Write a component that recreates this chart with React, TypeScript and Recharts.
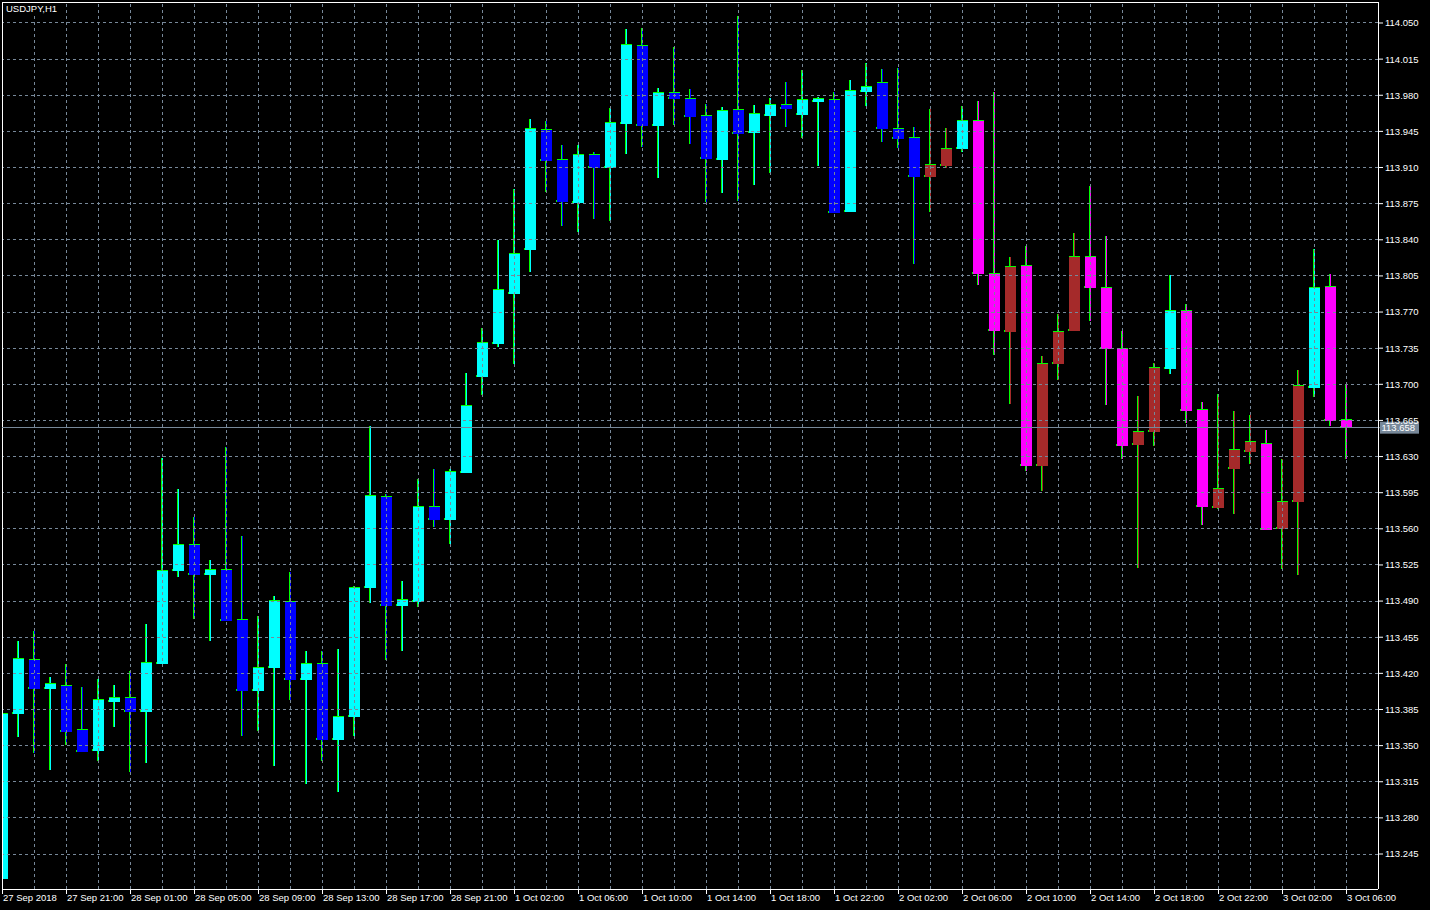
import React from "react";
import { ComposedChart, Bar, XAxis, YAxis, ReferenceLine } from "recharts";

const symbolLabel = "USDJPY,H1";
const lastPrice = 113.658;

const opens = [
  113.221, 113.381, 113.433, 113.405, 113.408, 113.365, 113.345, 113.392, 113.396, 113.383,
  113.429, 113.519, 113.544, 113.515, 113.520, 113.472, 113.403, 113.425, 113.489, 113.414,
  113.429, 113.355, 113.378, 113.503, 113.591, 113.485, 113.489, 113.581, 113.569, 113.614,
  113.707, 113.739, 113.787, 113.830, 113.946, 113.917, 113.876, 113.922, 113.910, 113.952,
  114.028, 113.950, 113.982, 113.976, 113.960, 113.917, 113.966, 113.943, 113.960, 113.971,
  113.961, 113.973, 113.975, 113.867, 113.983, 113.992, 113.947, 113.939, 113.901, 113.911,
  113.928, 113.955, 113.807, 113.751, 113.815, 113.621, 113.720, 113.752, 113.823, 113.793,
  113.734, 113.641, 113.654, 113.715, 113.771, 113.675, 113.580, 113.618, 113.634, 113.642,
  113.560, 113.586, 113.696, 113.794, 113.665,
];
const highs = [
  113.381, 113.451, 113.461, 113.416, 113.429, 113.407, 113.415, 113.409, 113.422, 113.468,
  113.629, 113.599, 113.571, 113.530, 113.639, 113.553, 113.476, 113.495, 113.518, 113.442,
  113.442, 113.444, 113.505, 113.660, 113.594, 113.509, 113.608, 113.618, 113.618, 113.711,
  113.755, 113.840, 113.889, 113.957, 113.955, 113.932, 113.932, 113.925, 113.968, 114.044,
  114.045, 113.987, 114.027, 113.986, 113.972, 113.969, 114.057, 113.971, 113.977, 113.993,
  114.004, 113.978, 113.983, 113.995, 114.011, 114.005, 114.006, 113.949, 113.967, 113.948,
  113.970, 113.974, 113.983, 113.823, 113.834, 113.727, 113.768, 113.847, 113.892, 113.844,
  113.752, 113.689, 113.721, 113.806, 113.778, 113.683, 113.691, 113.674, 113.670, 113.656,
  113.628, 113.714, 113.831, 113.807, 113.700,
];
const lows = [
  113.221, 113.358, 113.343, 113.326, 113.351, 113.344, 113.335, 113.368, 113.324, 113.333,
  113.429, 113.513, 113.473, 113.451, 113.471, 113.359, 113.364, 113.330, 113.394, 113.313,
  113.335, 113.305, 113.359, 113.488, 113.433, 113.442, 113.484, 113.562, 113.545, 113.614,
  113.690, 113.736, 113.720, 113.809, 113.886, 113.853, 113.848, 113.860, 113.858, 113.923,
  113.930, 113.900, 113.951, 113.933, 113.877, 113.885, 113.878, 113.893, 113.905, 113.949,
  113.939, 113.911, 113.866, 113.867, 113.970, 113.935, 113.929, 113.817, 113.867, 113.910,
  113.925, 113.796, 113.728, 113.681, 113.616, 113.597, 113.704, 113.752, 113.761, 113.680,
  113.628, 113.522, 113.640, 113.710, 113.663, 113.564, 113.579, 113.574, 113.623, 113.559,
  113.521, 113.515, 113.688, 113.660, 113.628,
];
const closes = [
  113.381, 113.434, 113.405, 113.410, 113.363, 113.344, 113.394, 113.396, 113.383, 113.430,
  113.519, 113.544, 113.515, 113.520, 113.471, 113.403, 113.425, 113.490, 113.414, 113.429,
  113.355, 113.378, 113.503, 113.592, 113.485, 113.491, 113.581, 113.569, 113.615, 113.679,
  113.740, 113.791, 113.826, 113.947, 113.916, 113.877, 113.922, 113.910, 113.953, 114.029,
  113.950, 113.982, 113.976, 113.959, 113.918, 113.965, 113.942, 113.962, 113.971, 113.967,
  113.975, 113.976, 113.866, 113.984, 113.988, 113.947, 113.938, 113.901, 113.912, 113.928,
  113.955, 113.807, 113.752, 113.814, 113.621, 113.720, 113.751, 113.823, 113.793, 113.734,
  113.640, 113.654, 113.716, 113.771, 113.674, 113.581, 113.599, 113.636, 113.644, 113.559,
  113.586, 113.698, 113.793, 113.664, 113.658,
];
// indicator state per bar: 1 = up regime, -1 = down regime
const trend = [
  1, 1, 1, 1, 1, 1, 1, 1, 1, 1,
  1, 1, 1, 1, 1, 1, 1, 1, 1, 1,
  1, 1, 1, 1, 1, 1, 1, 1, 1, 1,
  1, 1, 1, 1, 1, 1, 1, 1, 1, 1,
  1, 1, 1, 1, 1, 1, 1, 1, 1, 1,
  1, 1, 1, 1, 1, 1, 1, 1, -1, -1,
  1, -1, -1, -1, -1, -1, -1, -1, -1, -1,
  -1, -1, -1, 1, -1, -1, -1, -1, -1, -1,
  -1, -1, 1, -1, -1,
];
const timeLabels = [
  "27 Sep 2018", "27 Sep 21:00", "28 Sep 01:00", "28 Sep 05:00", "28 Sep 09:00", "28 Sep 13:00",
  "28 Sep 17:00", "28 Sep 21:00", "1 Oct 02:00", "1 Oct 06:00", "1 Oct 10:00", "1 Oct 14:00",
  "1 Oct 18:00", "1 Oct 22:00", "2 Oct 02:00", "2 Oct 06:00", "2 Oct 10:00", "2 Oct 14:00",
  "2 Oct 18:00", "2 Oct 22:00", "3 Oct 02:00", "3 Oct 06:00",
];
const barsPerLabel = 4;
const priceTicks = [
  114.050, 114.015, 113.980, 113.945, 113.910, 113.875, 113.840, 113.805, 113.770, 113.735,
  113.700, 113.665, 113.630, 113.595, 113.560, 113.525, 113.490, 113.455, 113.420, 113.385,
  113.350, 113.315, 113.280, 113.245,
];
const priceDomain: [number, number] = [113.2111, 114.07034];
const indexDomain: [number, number] = [-0.03125, 85.96875];

const BULL_UP = "#00FFFF";
const BEAR_UP = "#0000FF";
const BULL_DN = "#A52A2A";
const BEAR_DN = "#FF00FF";
const EDGE = "#00FF00";
const GRID = "#778899";
const FONT = "'Liberation Sans', Arial, sans-serif";

const rows = opens.map((o, i) => ({
  idx: i,
  open: o,
  high: highs[i],
  low: lows[i],
  close: closes[i],
  trend: trend[i],
  range: [lows[i], highs[i]],
}));

const xTicks = timeLabels.map((_, i) => i * barsPerLabel);
const gridBars = rows.filter((r) => r.idx > 0 && r.idx % 2 === 0).map((r) => r.idx);

const Candle = (props: any) => {
  const { x, y, width, height, payload } = props;
  if (!payload || typeof x !== "number") return null;
  const top = Math.min(y, y + height);
  const h = Math.abs(height);
  const { open, high, low, close } = payload;
  const span = high - low;
  const toY = (p: number) => top + (span === 0 ? 0 : ((high - p) / span) * h);
  const cx = x + width / 2;
  const bull = close >= open;
  const color = payload.trend > 0 ? (bull ? BULL_UP : BEAR_UP) : (bull ? BULL_DN : BEAR_DN);
  const bTop = toY(Math.max(open, close));
  const bBot = toY(Math.min(open, close));
  const bh = Math.max(1, bBot - bTop);
  const left = cx - 5.5;
  return (
    <g shapeRendering="crispEdges">
      <rect x={cx - 1.5} y={top} width={1} height={Math.max(1, h)} fill={EDGE} />
      <rect x={cx - 0.5} y={top} width={1} height={Math.max(1, h)} fill={color} />
      <rect x={left} y={bTop - 1} width={11} height={1} fill={EDGE} />
      <rect x={left - 1} y={bTop + bh - 2} width={1} height={2} fill={EDGE} />
      <rect x={left} y={bTop} width={11} height={bh} fill={color} />
    </g>
  );
};

const XTick = (props: any) => {
  const { x, y, payload } = props;
  const label = timeLabels[Math.round(payload.value / barsPerLabel)];
  return (
    <g>
      <line x1={x} x2={x} y1={y} y2={y + 5} stroke="#FFFFFF" shapeRendering="crispEdges" />
      <text x={x + 0.5} y={y + 12} fill="#FFFFFF" fontSize={9.5} fontFamily={FONT} textAnchor="start">
        {label}
      </text>
    </g>
  );
};

const PriceTag = (props: any) => {
  const vb = props.viewBox || {};
  const x0 = (vb.x || 0) + (vb.width || 0);
  const yc = vb.y || 0;
  return (
    <g>
      <rect x={x0} y={yc - 0.5} width={3} height={1} fill={GRID} />
      <rect x={x0 + 2} y={yc - 6} width={39} height={12} fill={GRID} />
      <text x={x0 + 3.5} y={yc + 3.5} fill="#FFFFFF" fontSize={9.5} fontFamily={FONT}>
        {lastPrice.toFixed(3)}
      </text>
    </g>
  );
};

export default function App() {
  return (
    <div style={{ position: "absolute", left: 0, top: 0, width: 1430, height: 910, background: "#000", overflow: "hidden" }}>
      <ComposedChart
        width={1430}
        height={910}
        data={rows}
        margin={{ top: 2, right: 0, bottom: 0, left: 2 }}
        style={{ background: "#000" }}
      >
        <XAxis
          dataKey="idx"
          type="number"
          domain={indexDomain}
          allowDataOverflow
          ticks={xTicks}
          interval={0}
          height={21}
          tickSize={0}
          tickMargin={0}
          tickLine={false}
          axisLine={{ stroke: "#FFFFFF", shapeRendering: "crispEdges" }}
          tick={<XTick />}
        />
        <YAxis
          orientation="right"
          type="number"
          domain={priceDomain}
          allowDataOverflow
          ticks={priceTicks}
          interval={0}
          width={52}
          tickSize={5}
          tickMargin={2}
          tickFormatter={(v: number) => v.toFixed(3)}
          tick={{ fill: "#FFFFFF", fontSize: 9.5, fontFamily: FONT }}
          tickLine={{ stroke: "#FFFFFF" }}
          axisLine={{ stroke: "#FFFFFF", shapeRendering: "crispEdges" }}
        />
        {priceTicks.map((p) => (
          <ReferenceLine key={"h" + p} y={p} stroke={GRID} strokeDasharray="3 3" shapeRendering="crispEdges" />
        ))}
        {gridBars.map((k) => (
          <ReferenceLine key={"v" + k} x={k} stroke={GRID} strokeDasharray="3 3" shapeRendering="crispEdges" />
        ))}
        <ReferenceLine x={indexDomain[0]} stroke="#FFFFFF" shapeRendering="crispEdges" />
        <ReferenceLine y={priceDomain[1]} stroke="#FFFFFF" shapeRendering="crispEdges" />
        <ReferenceLine y={lastPrice} stroke={GRID} shapeRendering="crispEdges" label={(p: any) => <PriceTag {...p} />} />
        <Bar dataKey="range" shape={<Candle />} barSize={11} isAnimationActive={false} />
      </ComposedChart>
      <div
        style={{
          position: "absolute",
          left: 4,
          top: 3,
          padding: "0 2px",
          background: "#000",
          color: "#FFFFFF",
          fontFamily: FONT,
          fontSize: 9.5,
          lineHeight: "11px",
        }}
      >
        {symbolLabel}
      </div>
    </div>
  );
}
